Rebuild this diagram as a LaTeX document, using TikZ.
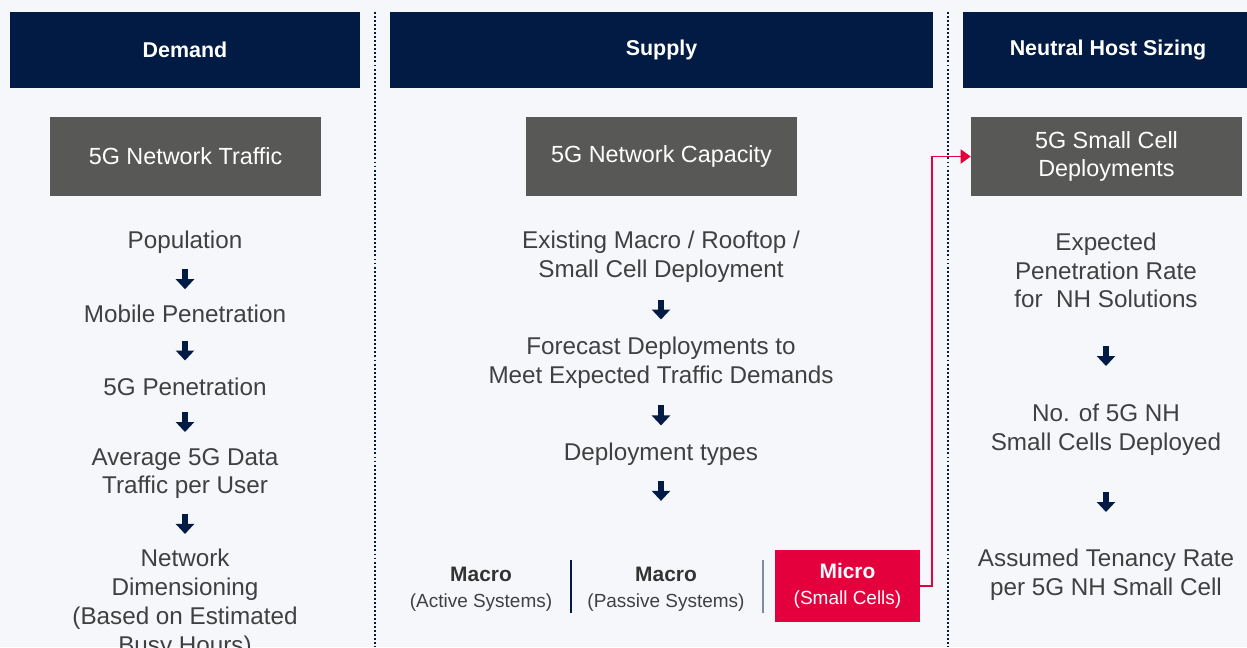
\documentclass[tikz,border=0pt]{standalone}
\usepackage{fontspec}
\setmainfont{Liberation Sans}
\usetikzlibrary{arrows.meta,calc}

\definecolor{navy}{HTML}{011B45}
\definecolor{boxgray}{HTML}{585856}
\definecolor{hostred}{HTML}{E4003D}
\definecolor{pagebg}{HTML}{F5F7FB}
\definecolor{txtgray}{HTML}{404040}
\definecolor{sepgray}{HTML}{7D8AA0}

\newcommand{\flowarrow}[3][.5]{%
  \draw[blockarrow] ($(#2.south)!#1!(#2.south |- #3.north)$) ++(0,-10) -- ++(0,20);}

\begin{document}
\begin{tikzpicture}[x=0.02cm,y=-0.02cm,
  header/.style={fill=navy,text=white,inner sep=0,
    font=\bfseries\fontsize{12.2}{14}\selectfont,minimum height=1.52cm},
  graybox/.style={fill=boxgray,text=white,inner sep=0,align=center,
    minimum width=5.42cm,minimum height=1.58cm,
    font=\fontsize{13.3}{16.4}\selectfont},
  label/.style={text=txtgray,inner sep=0,align=center,yshift=-0.04cm,
    font=\fontsize{13.8}{16.4}\selectfont},
  kind/.style={text=txtgray,inner sep=0,align=center,yshift=-0.03cm,
    font=\fontsize{10.8}{14.7}\selectfont},
  blockarrow/.style={draw=navy,line width=0.12cm,
    -{Triangle[width=0.36cm,length=0.2cm]}},
  dotline/.style={draw=navy,line width=1.1pt,dash pattern=on 1.1pt off 1.2pt},
  redline/.style={draw=hostred,line width=1.1pt,
    -{Triangle[width=0.28cm,length=0.2cm]}}]

  \fill[pagebg] (0,0) rectangle (1247,647);
  \useasboundingbox (0,0) rectangle (1247,647);

  \draw[dotline] (375,12) -- (375,647);
  \draw[dotline] (948,12) -- (948,647);

  \node[header,minimum width=7cm]     (demand) at (185,50)  {Demand};
  \node[header,minimum width=10.86cm] (supply) at (661.5,50) {Supply};
  \node[header,minimum width=5.8cm]   (host)   at (1108,50) {Neutral Host Sizing};

  \node[graybox] (traffic)  at (185.5,156.5)  {5G Network Traffic};
  \node[graybox] (capacity) at (661.5,156.5)  {5G Network Capacity};
  \node[graybox] (cells)    at (1106.5,156.5) {5G Small Cell\\Deployments};

  \node[label] (pop)   at (185,240)   {Population};
  \node[label] (mob)   at (185,312)   {Mobile Penetration};
  \node[label] (pen)   at (185,385)   {5G Penetration};
  \node[label] (avg)   at (185,471.5) {Average 5G Data\\Traffic per User};
  \node[label] (dim)   at (185,601.5) {Network\\Dimensioning\\(Based on Estimated\\Busy Hours)};

  \flowarrow{pop}{mob}
  \flowarrow{mob}{pen}
  \flowarrow{pen}{avg}
  \flowarrow{avg}{dim}

  \node[label] (exist) at (661,254.5) {Existing Macro / Rooftop /\\Small Cell Deployment};
  \node[label] (fore)  at (661,360.5) {Forecast Deployments to\\Meet Expected Traffic Demands};
  \node[label] (dtype) at (661,452)   {Deployment types};

  \node[kind] (active)  at (481,588)
    {{\fontsize{11.9}{14.7}\selectfont\bfseries\color{black!80}Macro}\\(Active Systems)};
  \node[kind] (passive) at (666,588)
    {{\fontsize{11.9}{14.7}\selectfont\bfseries\color{black!80}Macro}\\(Passive Systems)};
  \node[kind,fill=hostred,text=white,minimum width=2.9cm,minimum height=1.44cm,
    yshift=0.03cm] (micro) at (847.5,586)
    {{\fontsize{11.9}{14.7}\selectfont\bfseries Micro}\\(Small Cells)};
  \draw[navy,line width=1pt] (571,560) -- (571,613);
  \draw[sepgray,line width=1pt] (763,560) -- (763,613);

  \flowarrow{exist}{fore}
  \flowarrow{fore}{dtype}
  \flowarrow[.3]{dtype}{micro}

  \node[label] (expect)  at (1106,268.5) {Expected\\Penetration Rate\\for~ NH Solutions};
  \node[label] (nhcells) at (1106,427.5) {No. of 5G NH\\Small Cells Deployed};
  \node[label] (tenancy) at (1106,572.5) {Assumed Tenancy Rate\\per 5G NH Small Cell};

  \flowarrow{expect}{nhcells}
  \flowarrow{nhcells}{tenancy}

  \draw[redline] (micro.east) -- ++(12,0) |- (cells.west);
\end{tikzpicture}
\end{document}
